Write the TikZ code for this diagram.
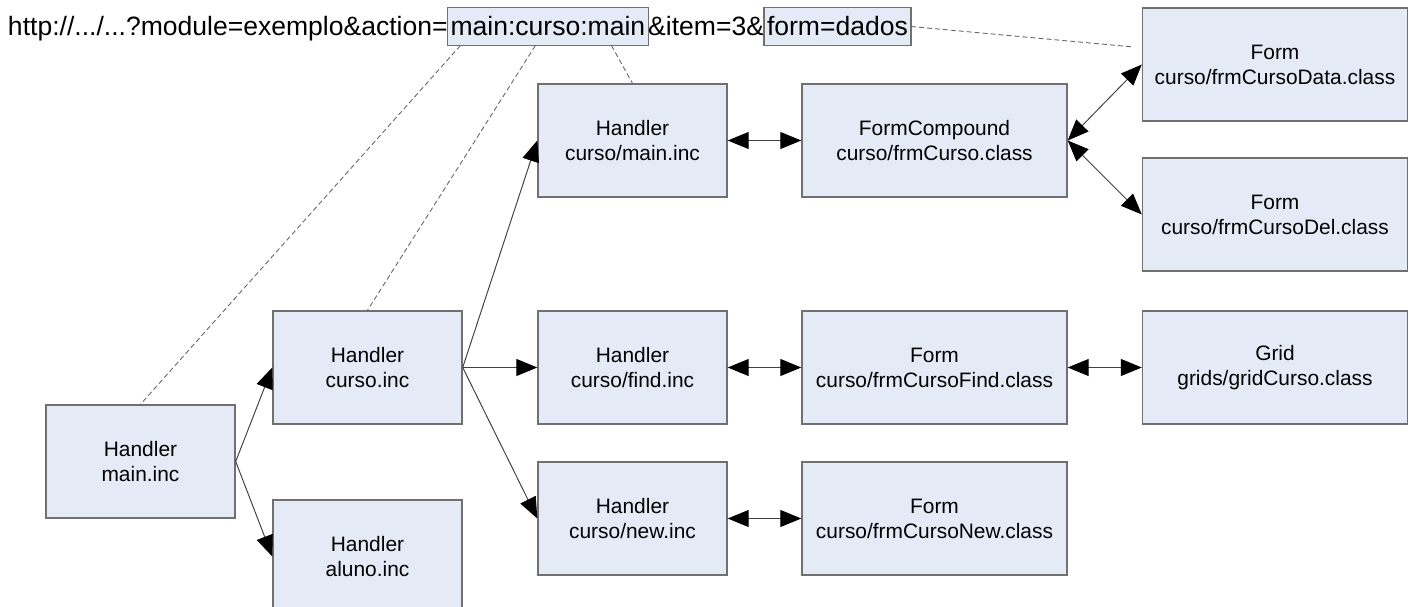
\documentclass[tikz,border=0pt]{standalone}
\usepackage{fontspec}
\setmainfont{Liberation Sans}
\usetikzlibrary{arrows.meta}
\definecolor{boxfill}{RGB}{229,235,246}
\definecolor{boxline}{RGB}{112,112,112}
\definecolor{linkline}{RGB}{64,64,64}
\tikzstyle{handler} = [rectangle, minimum width=3.78cm, minimum height=2.26cm, text centered, align=center, draw=boxline, line width=0.8pt, fill=boxfill, font=\fontsize{11.9pt}{14.2pt}\selectfont]
\tikzstyle{form} = [handler, minimum width=5.3cm]
\tikzstyle{urltext} = [inner sep=0pt, outer sep=0pt, font=\fontsize{15.1pt}{18pt}\selectfont]
\tikzstyle{urlbox} = [urltext, draw=boxline, line width=0.8pt, fill=boxfill, inner xsep=0.06cm, minimum height=0.76cm]
\tikzstyle{arrow} = [line width=0.55pt, draw=linkline, ->, >={Triangle[length=0.42cm, width=0.34cm, color=black]}]
\tikzstyle{darrow} = [arrow, <->]
\tikzstyle{param} = [line width=0.5pt, draw=linkline!80, dash pattern=on 0.1cm off 0.06cm]

\begin{document}
\begin{tikzpicture}[node distance=1.5cm]
\useasboundingbox (-2.81,-2.89) rectangle (25.51,9.23);

% handlers
\node (main) [handler] {Handler\\main.inc};
\node (curso) [handler, right of=main, xshift=3.04cm, yshift=1.88cm] {Handler\\curso.inc};
\node (aluno) [handler, below of=curso, yshift=-2.28cm] {Handler\\aluno.inc};
\node (find) [handler, right of=curso, xshift=3.8cm] {Handler\\curso/find.inc};
\node (cmain) [handler, above of=find, yshift=3.04cm] {Handler\\curso/main.inc};
\node (new) [handler, below of=find, yshift=-1.52cm] {Handler\\curso/new.inc};

% forms
\node (compound) [form, right of=cmain, xshift=4.54cm] {FormCompound\\curso/frmCurso.class};
\node (frmfind) [form, right of=find, xshift=4.54cm] {Form\\curso/frmCursoFind.class};
\node (frmnew) [form, right of=new, xshift=4.54cm] {Form\\curso/frmCursoNew.class};
\node (grid) [form, right of=frmfind, xshift=5.31cm] {Grid\\grids/gridCurso.class};
\node (data) [form, right of=compound, xshift=5.31cm, yshift=1.52cm] {Form\\curso/frmCursoData.class};
\node (del) [form, right of=compound, xshift=5.31cm, yshift=-1.48cm] {Form\\curso/frmCursoDel.class};

% url
\node (pre) [urltext, anchor=base west] at (-2.65,8.51) {http://.../...?module=exemplo\&action=};
\node (action) [urlbox, anchor=base west] at (pre.base east) {main:curso:main};
\node (item) [urltext, anchor=base west] at (action.base east) {\&item=3\&};
\node (formpar) [urlbox, anchor=base west] at (item.base east) {form=dados};
\coordinate (dataend) at ([xshift=-0.16cm, yshift=0.35cm]data.west);

\draw [param]([xshift=-1.75cm]action.south) -- (main.north);
\draw [param]([xshift=-0.25cm]action.south) -- (curso.north);
\draw [param]([xshift=1.27cm]action.south) -- (cmain.north);
\draw [param](formpar.east) -- (dataend);

\draw [arrow](main.east) -- (curso.west);
\draw [arrow](main.east) -- (aluno.west);
\draw [arrow](curso.east) -- (cmain.west);
\draw [arrow](curso.east) -- (find.west);
\draw [arrow](curso.east) -- (new.west);
\draw [darrow](cmain) -- (compound);
\draw [darrow](find) -- (frmfind);
\draw [darrow](new) -- (frmnew);
\draw [darrow](frmfind) -- (grid);
\draw [darrow](compound.east) -- (data.west);
\draw [darrow](compound.east) -- (del.west);
\end{tikzpicture}
\end{document}
